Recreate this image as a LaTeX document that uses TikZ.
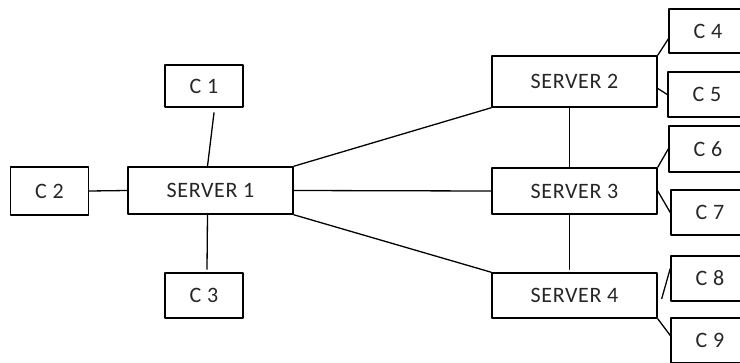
\documentclass[tikz,border=0pt]{standalone}
\usepackage{fontspec}
\setmainfont{Carlito}[LetterSpace=3]
\tikzset{net/.style={
  x={(1pt,0pt)},
  y={(0pt,-1pt)},
  line join=round,line cap=round
},
client/.style={draw,line width=1.5pt,inner sep=0pt,minimum width=78pt,minimum height=45pt},
server/.style={draw,line width=1.5pt,inner sep=0pt,minimum width=165pt,minimum height=47pt},
wire/.style={line width=1.3pt}
}

\begin{document}
\begin{tikzpicture}[net,font=\fontsize{22}{25}\selectfont,text=black!85]
  \useasboundingbox (0,0) rectangle (740,362);
  \clip (0,0) rectangle (740,362);
  \node[server] (s1) at (210.5,190.5) {SERVER 1};
  \node[server,minimum height=51pt] (s2) at (574.5,81.5) {SERVER 2};
  \node[server,minimum height=46pt] (s3) at (574.5,191) {SERVER 3};
  \node[server,minimum height=45pt] (s4) at (574.5,295.5) {SERVER 4};
  \node[client,minimum height=42pt] (c1) at (204,86) {C 1};
  \node[client,minimum height=48pt] (c2) at (49.5,191) {C 2};
  \node[client] (c3) at (204,295.5) {C 3};
  \node[client,minimum height=44pt] (c4) at (708,31) {C 4};
  \node[client] (c5) at (707,94.5) {C 5};
  \node[client,minimum height=46pt] (c6) at (708,149) {C 6};
  \node[client] (c7) at (710,212.5) {C 7};
  \node[client] (c8) at (710,278.5) {C 8};
  \node[client] (c9) at (710,340.5) {C 9};
  \draw[wire] ([xshift=10pt,yshift=-5pt]c1.south) -- ([xshift=-3pt]s1.north);
  \draw[wire] (c2.east) -- (s1.west);
  \draw[wire] ([xshift=-3pt]s1.south) -- ([xshift=3pt,yshift=3pt]c3.north);
  \draw[wire] (s1.north east) -- (s2.south west);
  \draw[wire] (s1.east) -- (s3.west);
  \draw[wire] (s1.south east) -- (s4.north west);
  \draw[wire] ([xshift=-5pt]s2.south) -- ([xshift=-5pt]s3.north);
  \draw[wire] ([xshift=-5pt]s3.south) -- ([xshift=-5pt,yshift=3pt]s4.north);
  \draw[wire] (s2.north east) -- ([yshift=-8pt]c4.west);
  \draw[wire] ([yshift=-7pt]s2.east) -- (c5.west);
  \draw[wire] (s3.north east) -- (c6.west);
  \draw[wire] (s3.east) -- (c7.west);
  \draw[wire] ([xshift=4pt,yshift=-3pt]s4.east) -- ([yshift=10pt]c8.west);
  \draw[wire] (s4.south east) -- ([yshift=5pt]c9.west);
\end{tikzpicture}
\end{document}
